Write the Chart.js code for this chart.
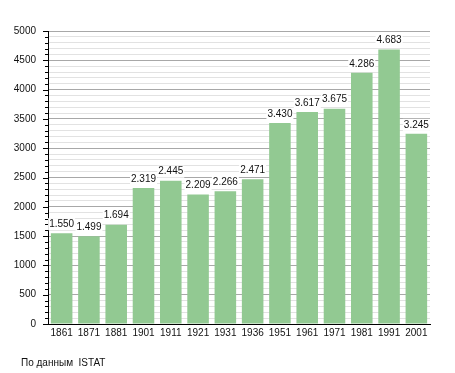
<!DOCTYPE html>
<html>
<head>
<meta charset="utf-8">
<script src="https://cdn.jsdelivr.net/npm/chart.js@4"></script>
<style>
  html, body { margin: 0; padding: 0; background: #fff; }
  canvas { display: block; }
</style>
</head>
<body>
<canvas id="myChart" width="455" height="373"></canvas>
<script>
// 年と人口
const years = ['1861', '1871', '1881', '1901', '1911', '1921', '1931', '1936', '1951', '1961', '1971', '1981', '1991', '2001'];
const population = [1550, 1499, 1694, 2319, 2445, 2209, 2266, 2471, 3430, 3617, 3675, 4286, 4683, 3245];
const yMax = 5000;
const yStep = 100;
const yLabelStep = 500;
const sourceNote = 'По данным  ISTAT';

const FONT = '"Liberation Sans", Arial, sans-serif';

// 1.550 のような区切り
function fmt(v) {
    return String(v).replace(/\B(?=(\d{3})+(?!\d))/g, '.');
}

// y軸の目盛り線
const tickMarks = {
    id: 'tickMarks',
    afterDraw(chart) {
        const ctx = chart.ctx;
        const y = chart.scales.y;
        const left = chart.chartArea.left;
        ctx.save();
        ctx.strokeStyle = '#000';
        ctx.lineWidth = 1;
        y.ticks.forEach(t => {
            const py = Math.round(y.getPixelForValue(t.value)) + 0.5;
            const len = t.value % yLabelStep === 0 ? 5 : 3;
            ctx.beginPath();
            ctx.moveTo(left - len, py);
            ctx.lineTo(left, py);
            ctx.stroke();
        });
        ctx.restore();
    }
};

// 棒の上の数値
const valueLabels = {
    id: 'valueLabels',
    afterDatasetsDraw(chart) {
        const ctx = chart.ctx;
        const meta = chart.getDatasetMeta(0);
        ctx.save();
        ctx.font = '10px ' + FONT;
        ctx.textAlign = 'center';
        ctx.textBaseline = 'middle';
        meta.data.forEach((bar, i) => {
            const text = fmt(population[i]);
            const w = ctx.measureText(text).width;
            const cy = bar.y - 9;
            ctx.fillStyle = '#fff';
            ctx.fillRect(bar.x - w / 2 - 1, cy - 6, w + 2, 12);
            ctx.fillStyle = '#111';
            ctx.fillText(text, bar.x, cy);
        });
        ctx.restore();
    }
};

// 出典
const footer = {
    id: 'footer',
    afterDraw(chart) {
        const ctx = chart.ctx;
        ctx.save();
        ctx.font = '10px ' + FONT;
        ctx.fillStyle = '#111';
        ctx.textAlign = 'left';
        ctx.textBaseline = 'middle';
        ctx.fillText(sourceNote, 21, 363);
        ctx.restore();
    }
};

function drawChart() {
    const ctx = document.getElementById('myChart').getContext('2d');

    const data = {
        labels: years,
        datasets: [{
            data: population,
            backgroundColor: '#92c992',
            borderWidth: 0,
            barPercentage: 0.79,
            categoryPercentage: 1
        }]
    };

    const config = {
        type: 'bar',
        data: data,
        options: {
            responsive: false,
            animation: false,
            events: [],
            layout: { padding: { left: 0, top: 31, right: 25, bottom: 29 } },
            plugins: {
                legend: { display: false },
                tooltip: { enabled: false }
            },
            scales: {
                x: {
                    grid: { display: false, drawTicks: false, tickLength: 0 },
                    border: { display: true, color: '#000', width: 1 },
                    ticks: {
                        color: '#111',
                        font: { size: 10, family: FONT },
                        padding: 3,
                        maxRotation: 0,
                        autoSkip: false
                    },
                    afterFit(scale) { scale.height = 20; }
                },
                y: {
                    min: 0,
                    max: yMax,
                    border: { display: true, color: '#000', width: 1 },
                    grid: {
                        drawTicks: false,
                        color: c => c.tick && c.tick.value % yLabelStep === 0 ? '#a8a8a8' : '#e2e2e2',
                        lineWidth: 1
                    },
                    ticks: {
                        stepSize: yStep,
                        autoSkip: false,
                        padding: 12,
                        color: '#111',
                        font: { size: 10, family: FONT },
                        callback: v => v % yLabelStep === 0 ? String(v) : ''
                    },
                    afterFit(scale) { scale.width = 48; }
                }
            }
        },
        plugins: [tickMarks, valueLabels, footer]
    };

    new Chart(ctx, config);
}

window.onload = drawChart;
</script>
</body>
</html>
